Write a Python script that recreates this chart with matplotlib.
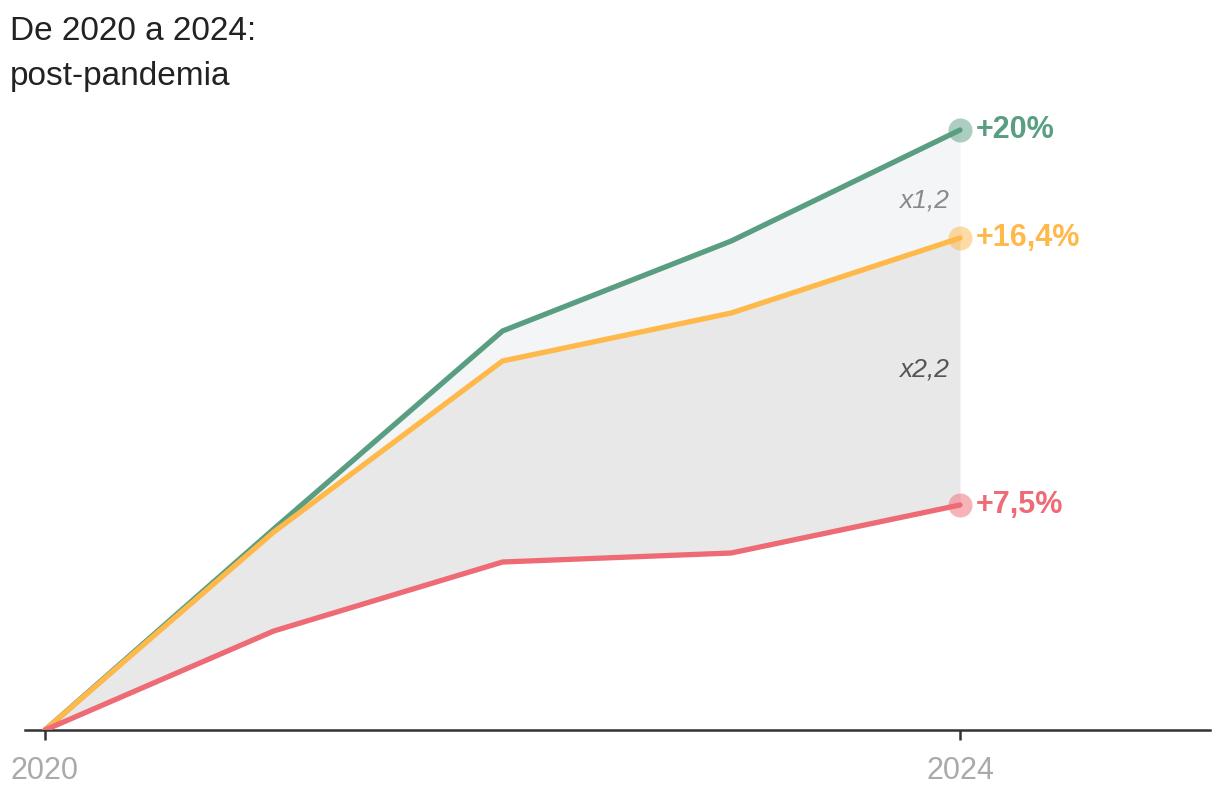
import matplotlib
matplotlib.use('Agg')
import matplotlib.pyplot as plt

plt.rcParams['font.family'] = ['Liberation Sans', 'DejaVu Sans']

years = [2020, 2021, 2022, 2023, 2024]
green_vals = [0, 6.7, 13.3, 16.3, 20.0]
yellow_vals = [0, 6.6, 12.3, 13.9, 16.4]
red_vals = [0, 3.3, 5.6, 5.9, 7.5]
end_labels = ['+20%', '+16,4%', '+7,5%']
ratio_labels = ['x1,2', 'x2,2']

GREEN = '#5a9e82'
YELLOW = '#ffb84a'
RED = '#ee6a74'

fig = plt.figure(figsize=(12.2, 7.92), dpi=100)
ax = fig.add_axes([25 / 1220, 62 / 792, 1185 / 1220, 630 / 792])

ax.fill_between(years, yellow_vals, green_vals, color='#f4f5f7', lw=0)
ax.fill_between(years, red_vals, yellow_vals, color='#e8e8e8', lw=0)

series = [(green_vals, GREEN), (yellow_vals, YELLOW), (red_vals, RED)]
for (vals, col), lab in zip(series, end_labels):
    ax.plot(years, vals, color=col, lw=3.8, solid_capstyle='round', zorder=3)
    ax.scatter([years[-1]], [vals[-1]], s=300, color=col, alpha=0.5, lw=0, zorder=4)
    ax.annotate(lab, (years[-1], vals[-1]), xytext=(11, 0), textcoords='offset points',
                ha='left', va='center', color=col, fontsize=22, fontweight='bold')

ax.text(2023.95, 17.65, ratio_labels[0], ha='right', va='center', fontsize=19,
        style='italic', color='#8a8a8a')
ax.text(2023.95, 12.0, ratio_labels[1], ha='right', va='center', fontsize=19,
        style='italic', color='#555555')

ax.set_xlim(2020 - 20 / 228.75, 2024 + 250 / 228.75)
ax.set_ylim(0, 21)
for s in ['top', 'right', 'left']:
    ax.spines[s].set_visible(False)
ax.spines['bottom'].set_color('#333333')
ax.spines['bottom'].set_linewidth(1.8)
ax.set_yticks([])
ax.set_xticks([2020, 2024])
ax.set_xticklabels(['2020', '2024'])
ax.tick_params(axis='x', length=7, width=1.8, color='#333333', labelcolor='#aaaaaa',
               labelsize=22, pad=12)

fig.text(10 / 1220, 1 - 32 / 792, 'De 2020 a 2024:', ha='left', va='center',
         fontsize=24, color='#222222')
fig.text(10 / 1220, 1 - 76 / 792, 'post-pandemia', ha='left', va='center',
         fontsize=24, color='#222222')

fig.savefig('out.png', dpi=100, facecolor='white')
